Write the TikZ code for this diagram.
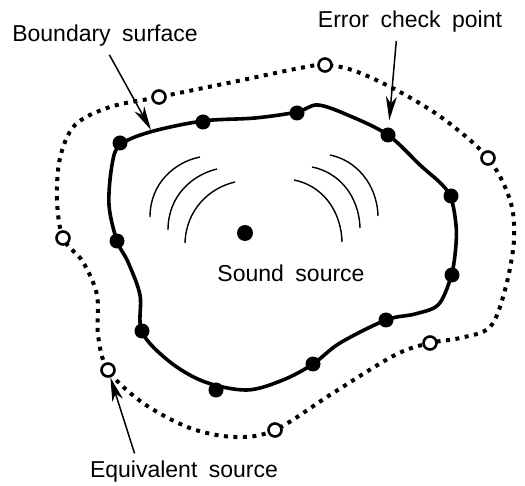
\documentclass[tikz,border=0pt]{standalone}
\usepackage{fontspec}
\setmainfont{Liberation Sans}
\usetikzlibrary{arrows.meta}

\newcommand\lblfont{\fontsize{23}{27}\selectfont\spaceskip 0.5em\relax}

\begin{document}
\begin{tikzpicture}[
    x=1pt, y=-1pt,
    lbl/.style={inner sep=0pt, font=\lblfont},
    chk/.style={circle, fill=black, inner sep=0pt, minimum size=15pt},
    eqs/.style={circle, draw=black, fill=white, line width=2.6pt,
        inner sep=0pt, minimum size=13pt},
    boundary/.style={line width=3.6pt, line join=round},
    outerline/.style={line width=4pt, dash pattern=on 4pt off 5.5pt},
    wave/.style={line width=1.4pt},
    pointer/.style={-{Stealth[length=24pt,width=11pt,inset=7pt]}, line width=1.5pt}
]
    \useasboundingbox (0,0) rectangle (525,486);

    % equivalent sources (dotted)
    \draw[outerline] plot[smooth cycle, tension=0.55] coordinates {
        (63,238) (57,200) (60,158) (75,125) (110,107) (159,97) (233,82)
        (300,68) (325,65) (355,71) (400,92) (445,120) (488,158) (510,200)
        (514,240) (505,290) (490,327) (460,338) (430,343) (395,355)
        (333,393) (275,430) (235,437) (190,428) (143,403) (108,370)
        (98,335) (97,295) (83,262)};

    \node[eqs] (e1) at (159,97) {};
    \node[eqs] (e2) at (325,65) {};
    \node[eqs] (e3) at (488,158) {};
    \node[eqs] (e4) at (430,343) {};
    \node[eqs] (e5) at (275,430) {};
    \node[eqs] (e6) at (108,370) {};
    \node[eqs] (e7) at (63,238) {};

    % boundary surface
    \draw[boundary] plot[smooth cycle, tension=0.55] coordinates {
        (120,145) (150,132) (203,121) (255,118) (297,112) (318,105)
        (350,116) (388,135) (420,165) (448,192) (456,225) (455,255)
        (450,280) (438,305) (415,314) (386,320) (340,343) (313,364)
        (283,380) (247,390) (205,382) (170,362) (142,332) (140,295)
        (128,262) (117,241) (109,205) (112,165)};
    \coordinate (bndpt) at (151,130);

    \node[chk] (c1) at (120,143) {};
    \node[chk] (c2) at (203,122) {};
    \node[chk] (c3) at (297,113) {};
    \node[chk] (c4) at (388,135) {};
    \node[chk] (c5) at (451,196) {};
    \node[chk] (c6) at (452,275) {};
    \node[chk] (c7) at (386,320) {};
    \node[chk] (c8) at (313,364) {};
    \node[chk] (c9) at (216,390) {};
    \node[chk] (c10) at (142,331) {};
    \node[chk] (c11) at (117,241) {};

    % sound waves
    \draw[wave] (150,217) .. controls (150,183) and (175,162) .. (200,157);
    \draw[wave] (168,230) .. controls (168,196) and (192,175) .. (217,169);
    \draw[wave] (185,243) .. controls (186,210) and (209,188) .. (235,182);
    \draw[wave] (330,155) .. controls (355,160) and (377,183) .. (378,216);
    \draw[wave] (312,167) .. controls (338,172) and (359,195) .. (360,228);
    \draw[wave] (294,180) .. controls (320,185) and (341,208) .. (342,242);

    \node[circle, fill=black, inner sep=0pt, minimum size=16pt] (src) at (245,233) {};

    % labels
    \node[lbl] (snd) at (291,273) {Sound source};
    \node[lbl] (bnd) at (105,36) {Boundary surface};
    \node[lbl] (err) at (410,22) {Error check point};
    \node[lbl] (eqv) at (184,472) {Equivalent source};

    \draw[pointer, shorten <=9pt] (bnd.south) -- (bndpt);
    \draw[pointer, shorten <=8pt, shorten >=7pt] ([xshift=-13pt]err.south) -- (c4);
    \draw[pointer, shorten <=8pt] ([xshift=-47pt]eqv.north) -- (e6);

\end{tikzpicture}
\end{document}
